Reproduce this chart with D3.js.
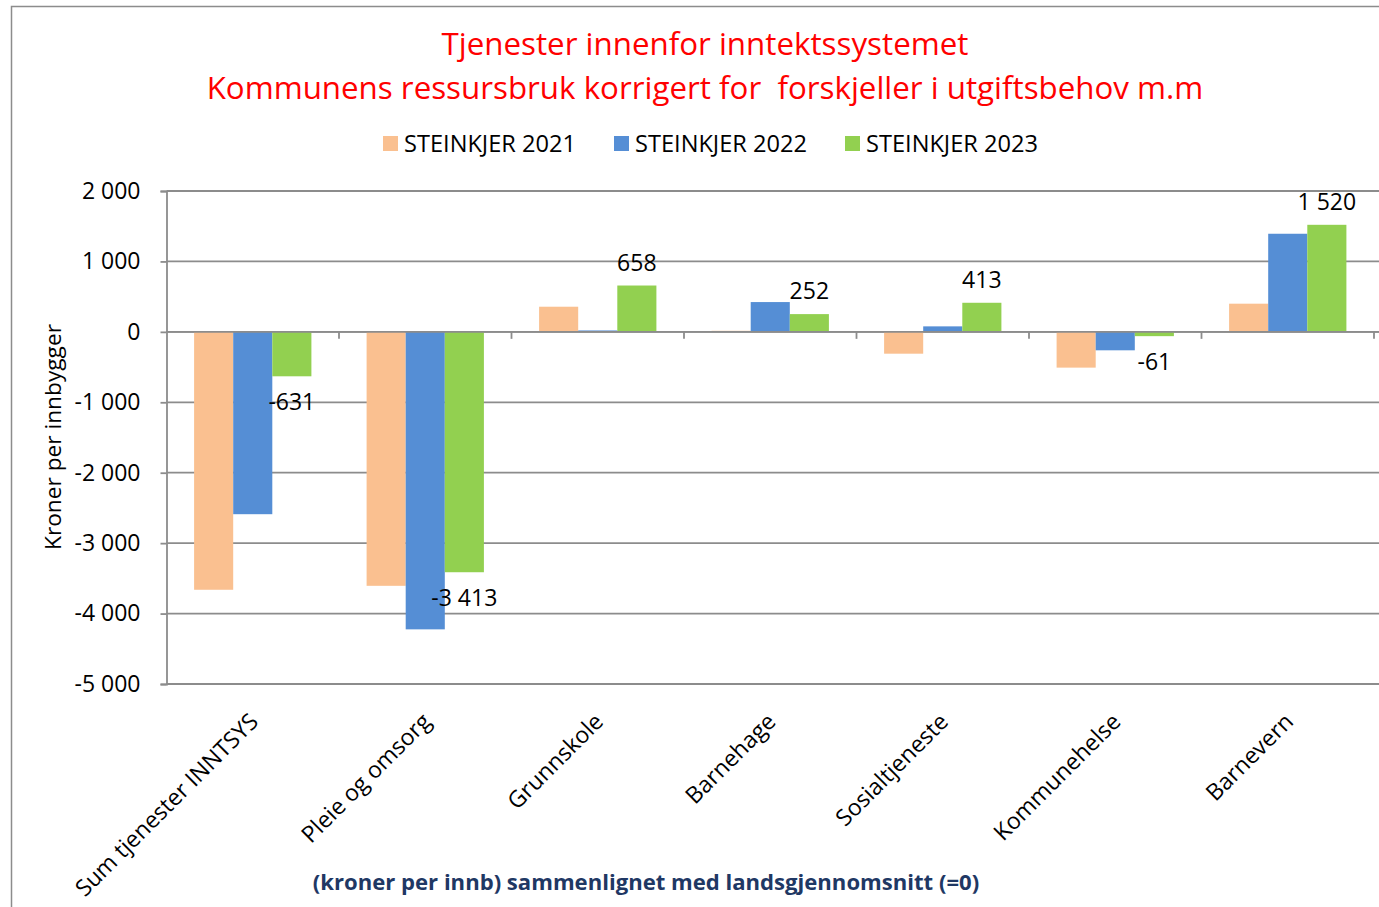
<!DOCTYPE html>
<html>
<head>
<meta charset="utf-8">
<script src="https://cdn.jsdelivr.net/npm/d3@7"></script>
<style>
  body { margin: 0; background: #fff; }
  svg { display: block; font-family: "Open Sans", sans-serif; }
</style>
</head>
<body>
<div id="chart"></div>
<script>
const categories = ["Sum tjenester INNTSYS", "Pleie og omsorg", "Grunnskole", "Barnehage", "Sosialtjeneste", "Kommunehelse", "Barnevern"];
const seriesNames = ["STEINKJER 2021", "STEINKJER 2022", "STEINKJER 2023"];
const values2021 = [-3662, -3606, 357, 15, -310, -508, 400];
const values2022 = [-2589, -4224, 20, 423, 78, -262, 1393];
const values2023 = [-631, -3413, 658, 252, 413, -61, 1520];
const yTicks = [2000, 1000, 0, -1000, -2000, -3000, -4000, -5000];
const colors = ["#FAC090", "#558ED5", "#92D050"];

const allSeries = [values2021, values2022, values2023];

const width = 1379, height = 907;
const margin = { top: 191, right: 5, bottom: 223, left: 166.5 };
const fontSize = "23px";

const locale = d3.formatLocale({ decimal: ",", thousands: " ", grouping: [3], currency: ["", ""], minus: "-" });
const fmt = locale.format(",d");

const svg = d3.select("#chart")
  .append("svg")
  .attr("width", width)
  .attr("height", height);

// outer frame (cut off at right and bottom like the picture)
svg.append("rect")
  .attr("x", 11.5).attr("y", 6.5)
  .attr("width", width + 10).attr("height", height + 10)
  .attr("fill", "none")
  .attr("stroke", "#8c8c8c")
  .attr("stroke-width", 1.5);

const x0 = d3.scaleBand()
  .domain(categories)
  .range([margin.left, 1374])
  .paddingInner(0.32)
  .paddingOuter(0.16);

const x1 = d3.scaleBand()
  .domain(seriesNames)
  .range([0, x0.bandwidth()]);

const y = d3.scaleLinear()
  .domain([-5000, 2000])
  .range([684, 191]);

// gridlines
svg.append("g")
  .selectAll("line")
  .data(yTicks)
  .enter()
  .append("line")
  .attr("x1", margin.left)
  .attr("x2", width)
  .attr("y1", (d) => y(d))
  .attr("y2", (d) => y(d))
  .attr("stroke", "#8c8c8c")
  .attr("stroke-width", 1.8);

// y axis
const yAxis = svg.append("g")
  .attr("transform", `translate(${margin.left},0)`)
  .call(d3.axisLeft(y).tickValues(yTicks).tickFormat(fmt).tickSize(6).tickPadding(20));
yAxis.select(".domain").attr("stroke", "#8c8c8c").attr("stroke-width", 1.8);
yAxis.selectAll(".tick line").attr("stroke", "#8c8c8c").attr("stroke-width", 1.8);
yAxis.selectAll(".tick text")
  .style("font-size", fontSize)
  .style("font-family", "'Open Sans', sans-serif")
  .attr("fill", "#000");

// bars
const groups = svg.append("g")
  .selectAll("g")
  .data(categories)
  .enter()
  .append("g")
  .attr("transform", (d) => `translate(${x0(d)},0)`);

groups.selectAll("rect")
  .data((d, i) => allSeries.map((s, k) => ({ key: seriesNames[k], value: s[i], k })))
  .enter()
  .append("rect")
  .attr("x", (d) => x1(d.key))
  .attr("width", x1.bandwidth())
  .attr("y", (d) => y(Math.max(0, d.value)))
  .attr("height", (d) => Math.abs(y(d.value) - y(0)))
  .attr("fill", (d) => colors[d.k]);

// zero axis with category ticks
svg.append("line")
  .attr("x1", margin.left).attr("x2", width)
  .attr("y1", y(0)).attr("y2", y(0))
  .attr("stroke", "#8c8c8c").attr("stroke-width", 1.8);

const step = x0.step();
svg.append("g")
  .selectAll("line")
  .data(categories)
  .enter()
  .append("line")
  .attr("x1", (d) => x0(d) - x0.paddingOuter() * step + step)
  .attr("x2", (d) => x0(d) - x0.paddingOuter() * step + step)
  .attr("y1", y(0))
  .attr("y2", y(0) + 7)
  .attr("stroke", "#8c8c8c")
  .attr("stroke-width", 1.8);

// data labels on 2023 series
svg.append("g")
  .selectAll("text")
  .data(values2023)
  .enter()
  .append("text")
  .attr("x", (d, i) => x0(categories[i]) + x1(seriesNames[2]) + x1.bandwidth() / 2)
  .attr("y", (d) => d >= 0 ? y(d) - 23 : y(d) + 26)
  .attr("dy", "0.35em")
  .attr("text-anchor", "middle")
  .style("font-size", fontSize)
  .attr("fill", "#000")
  .text((d) => fmt(d));

// category labels
svg.append("g")
  .selectAll("text")
  .data(categories)
  .enter()
  .append("text")
  .attr("transform", (d) => `translate(${x0(d) + x0.bandwidth() / 2 + 7},${723}) rotate(-45)`)
  .attr("text-anchor", "end")
  .style("font-size", fontSize)
  .attr("fill", "#000")
  .text((d) => d);

// y axis title
svg.append("text")
  .attr("transform", "translate(53,437) rotate(-90)")
  .attr("text-anchor", "middle")
  .attr("dy", "0.35em")
  .style("font-size", "22.7px")
  .attr("fill", "#000")
  .text("Kroner per innbygger");

// title
const title = svg.append("text")
  .attr("text-anchor", "middle")
  .attr("fill", "#ff0000")
  .style("font-size", "31.3px");
title.append("tspan").attr("x", 705).attr("y", 55).text("Tjenester innenfor inntektssystemet");
title.append("tspan").attr("x", 705).attr("y", 99).attr("xml:space", "preserve").text("Kommunens ressursbruk korrigert for  forskjeller i utgiftsbehov m.m");

// legend
const legendX = [383, 614, 845];
const legend = svg.append("g")
  .selectAll("g")
  .data(seriesNames)
  .enter()
  .append("g")
  .attr("transform", (d, i) => `translate(${legendX[i]},136)`);

legend.append("rect")
  .attr("width", 15)
  .attr("height", 15)
  .attr("fill", (d, i) => colors[i]);

legend.append("text")
  .attr("x", 21)
  .attr("y", 8)
  .attr("dy", "0.35em")
  .style("font-size", "23.6px")
  .attr("fill", "#000")
  .text((d) => d);

// bottom caption
svg.append("text")
  .attr("x", 646)
  .attr("y", 882)
  .attr("dy", "0.35em")
  .attr("text-anchor", "middle")
  .style("font-size", "22.1px")
  .style("font-weight", "bold")
  .attr("fill", "#1F3864")
  .text("(kroner per innb) sammenlignet med landsgjennomsnitt (=0)");
</script>
</body>
</html>
